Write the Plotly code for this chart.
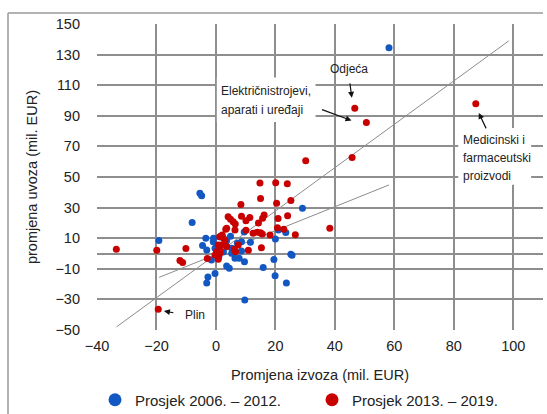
import plotly.graph_objects as go

# ---- data ----
blue_name = "Prosjek 2006. – 2012."
red_name = "Prosjek 2013. – 2019."

blue_x = [58.2, -5.4, -4.8, -8.0, -19.2, -3.4, -4.5, -2.7, -3.1, -0.3, 9.7, 3.6, 4.5,
          9.6, 15.9, 19.5, 19.9, 20.0, 23.7, 25.2, 25.6, 29.1, 23.5, 21.0, 11.6, 7.2,
          9.5, -0.9, 1.3, -0.3, 3.6, 5.3, 5.3, 6.4, -1.5, 8.6, -3.1, 8.6, -0.8, 2.5,
          4.9, 7.8, 1.0, 2.5]
blue_y = [134.5, 39.4, 37.8, 20.2, 8.5, 9.9, 5.3, -15.4, -19.3, -13.0, -30.4, -8.2, -9.7,
          -5.4, -9.2, -3.9, -14.5, 9.5, -19.2, -0.5, -1.2, 29.6, 13.8, 15.3, 7.4, 6.7,
          14.0, 7.7, 11.0, 3.4, 8.4, 3.4, 0.1, -3.1, -4.3, 7.7, 2.3, 1.6, 9.9, 10.1,
          11.3, -3.1, -2.0, 1.0]

red_x = [87.4, 46.7, 50.6, 45.8, 30.2, 14.8, 20.1, 24.0, 15.0, 8.4, 20.4, 25.2, 4.1,
         4.9, 5.8, 6.5, 8.6, 11.4, 10.1, 16.2, 15.7, 24.1, 14.3, 20.9, 3.3, 10.1, 12.5,
         13.9, 15.0, 15.6, 18.2, 20.7, 22.8, 26.7, 38.3, -33.5, -19.9, -10.1, -12.1,
         -11.2, -19.4, -2.9, 10.9, 15.3, 6.2, 6.6, 0.8, 3.6, 1.3, 3.0, 1.9, 0.2, -0.3,
         1.3, 3.6, 7.5, 6.4, 2.1, 0.8, 1.3]
red_y = [97.8, 95.0, 85.6, 62.7, 60.7, 46.1, 46.3, 45.6, 36.0, 32.0, 32.8, 34.6, 24.1,
         22.4, 20.8, 19.3, 24.3, 23.5, 21.4, 25.2, 23.0, 24.6, 20.0, 22.8, 15.8, 15.2, 13.2,
         13.9, 13.6, 12.8, 12.1, 16.8, 15.8, 12.2, 16.5, 2.7, 2.1, 3.2, -4.5,
         -5.9, -36.5, -3.3, 2.2, 3.8, 2.7, 1.2, -3.8, 16.5, 11.0, 8.8, 5.6, 1.2, -1.0,
         0.1, 4.5, 5.6, 15.4, 12.1, 5.6, 1.9]

# trend lines (end points)
trend1_x = [-33.4, 98.5]
trend1_y = [-47.9, 139.0]
trend2_x = [-19.1, 58.2]
trend2_y = [-15.6, 44.8]

x_ticks = [-40, -20, 0, 20, 40, 60, 80, 100]
y_ticks = [-50, -30, -10, 10, 30, 50, 70, 90, 110, 130, 150]

BLUE = "#1358C2"
RED = "#C80000"
GRID = "#8e8e8e"
FONT = "Liberation Sans, Arial, sans-serif"

W, H = 547, 414
ML, MR, MT, MB = 8, 4, 13, 0          # outer frame box
PW, PH = W - ML - MR, H - MT - MB
X_DOM = [(97 - ML) / PW, 1.0]
Y_DOM = [(H - 330 - MB) / PH, (H - 24 - MB) / PH]

fig = go.Figure()

fig.add_trace(go.Scatter(x=trend1_x, y=trend1_y, mode="lines",
                         line=dict(color="#8c8c8c", width=1), showlegend=False, hoverinfo="skip"))
fig.add_trace(go.Scatter(x=trend2_x, y=trend2_y, mode="lines",
                         line=dict(color="#8c8c8c", width=1), showlegend=False, hoverinfo="skip"))

fig.add_trace(go.Scatter(x=blue_x, y=blue_y, mode="markers", name=blue_name,
                         marker=dict(color=BLUE, size=7), showlegend=False))
fig.add_trace(go.Scatter(x=red_x, y=red_y, mode="markers", name=red_name,
                         marker=dict(color=RED, size=7), showlegend=False))

# legend entries with larger symbols
fig.add_trace(go.Scatter(x=[None], y=[None], mode="markers", name=blue_name,
                         marker=dict(color=BLUE, size=13)))
fig.add_trace(go.Scatter(x=[None], y=[None], mode="markers", name=red_name,
                         marker=dict(color=RED, size=13)))

ann_font = dict(family=FONT, size=12, color="#222222")

annotations = []
annotations.append(dict(x=44.7, y=120.7, xref="x", yref="y", text="Odjeća",
                        showarrow=False, font=ann_font, xanchor="center", yanchor="middle"))
for txt, yy in [("Električnistrojevi,", 105.9), ("aparati i uređaji", 93.9)]:
    annotations.append(dict(x=1.0, y=yy, xref="x", yref="y", text=txt, showarrow=False,
                            font=ann_font, xanchor="left", yanchor="middle"))
for txt, yy in [("Medicinski i", 74.3), ("farmaceutski", 62.5), ("proizvodi", 50.7)]:
    annotations.append(dict(x=82.4, y=yy, xref="x", yref="y", text=txt, showarrow=False,
                            font=ann_font, xanchor="left", yanchor="middle"))
annotations.append(dict(x=-11.1, y=-40.2, xref="x", yref="y", text="Plin", showarrow=False,
                        font=ann_font, xanchor="left", yanchor="middle"))

for (x0, y0, x1, y1) in [(45.0, 112.2, 45.7, 101.8),
                         (35.2, 94.4, 45.6, 86.9),
                         (91.1, 80.8, 88.4, 91.9),
                         (-13.8, -38.9, -17.5, -37.6)]:
    annotations.append(dict(x=x1, y=y1, ax=x0, ay=y0, xref="x", yref="y", axref="x", ayref="y",
                            text="", showarrow=True, arrowhead=2, arrowsize=1, arrowwidth=1.2,
                            arrowcolor="#111111", standoff=0, startstandoff=0))

shapes = [
    dict(type="rect", xref="x", yref="y", x0=0.3, x1=33.5, y0=86.0, y1=115.0,
         fillcolor="white", line=dict(width=0), layer="between"),
    dict(type="rect", xref="x", yref="y", x0=81.5, x1=106.0, y0=45.0, y1=82.0,
         fillcolor="white", line=dict(width=0), layer="between"),
    # outer frame: top and left edges
    dict(type="line", xref="paper", yref="paper", x0=0, x1=1.0, y0=1.0, y1=1.0,
         line=dict(color="#9a9a9a", width=1.5), layer="above"),
    dict(type="line", xref="paper", yref="paper", x0=0, x1=0, y0=0, y1=1.0,
         line=dict(color="#9a9a9a", width=1.5), layer="above"),
]

fig.update_layout(
    width=W, height=H,
    margin=dict(l=ML, r=MR, t=MT, b=MB, autoexpand=False),
    paper_bgcolor="white", plot_bgcolor="white",
    font=dict(family=FONT, size=14.5, color="#222222"),
    showlegend=True,
    legend=dict(orientation="h", x=(95 - ML) / PW, xanchor="left",
                y=(H - 400 - MB) / PH, yanchor="middle",
                font=dict(family=FONT, size=15, color="#222222"),
                entrywidth=172, entrywidthmode="pixels",
                itemwidth=30, tracegroupgap=0, bgcolor="rgba(0,0,0,0)"),
    annotations=annotations,
    shapes=shapes,
)

fig.update_xaxes(domain=X_DOM, range=[-40, 110], tickmode="array", tickvals=x_ticks,
                 showgrid=True, gridcolor=GRID, gridwidth=1.5,
                 zeroline=True, zerolinecolor=GRID, zerolinewidth=1.5,
                 showline=False, ticks="", ticklabelstandoff=5, automargin=False,
                 tickfont=dict(size=14.5),
                 title=dict(text="Promjena izvoza (mil. EUR)", font=dict(size=14.5), standoff=17))
fig.update_yaxes(domain=Y_DOM, range=[-50, 150], tickmode="array", tickvals=y_ticks,
                 showgrid=True, gridcolor=GRID, gridwidth=1.5,
                 zeroline=True, zerolinecolor=GRID, zerolinewidth=1.5,
                 showline=False, ticks="", ticklabelstandoff=16, automargin=False,
                 tickfont=dict(size=14.5),
                 title=dict(text="promjena uvoza (mil. EUR)", font=dict(size=14.5), standoff=14))

fig.write_html("out.html", config={"displayModeBar": False},
               post_script="document.body.style.margin='0';document.body.style.overflow='hidden';")
